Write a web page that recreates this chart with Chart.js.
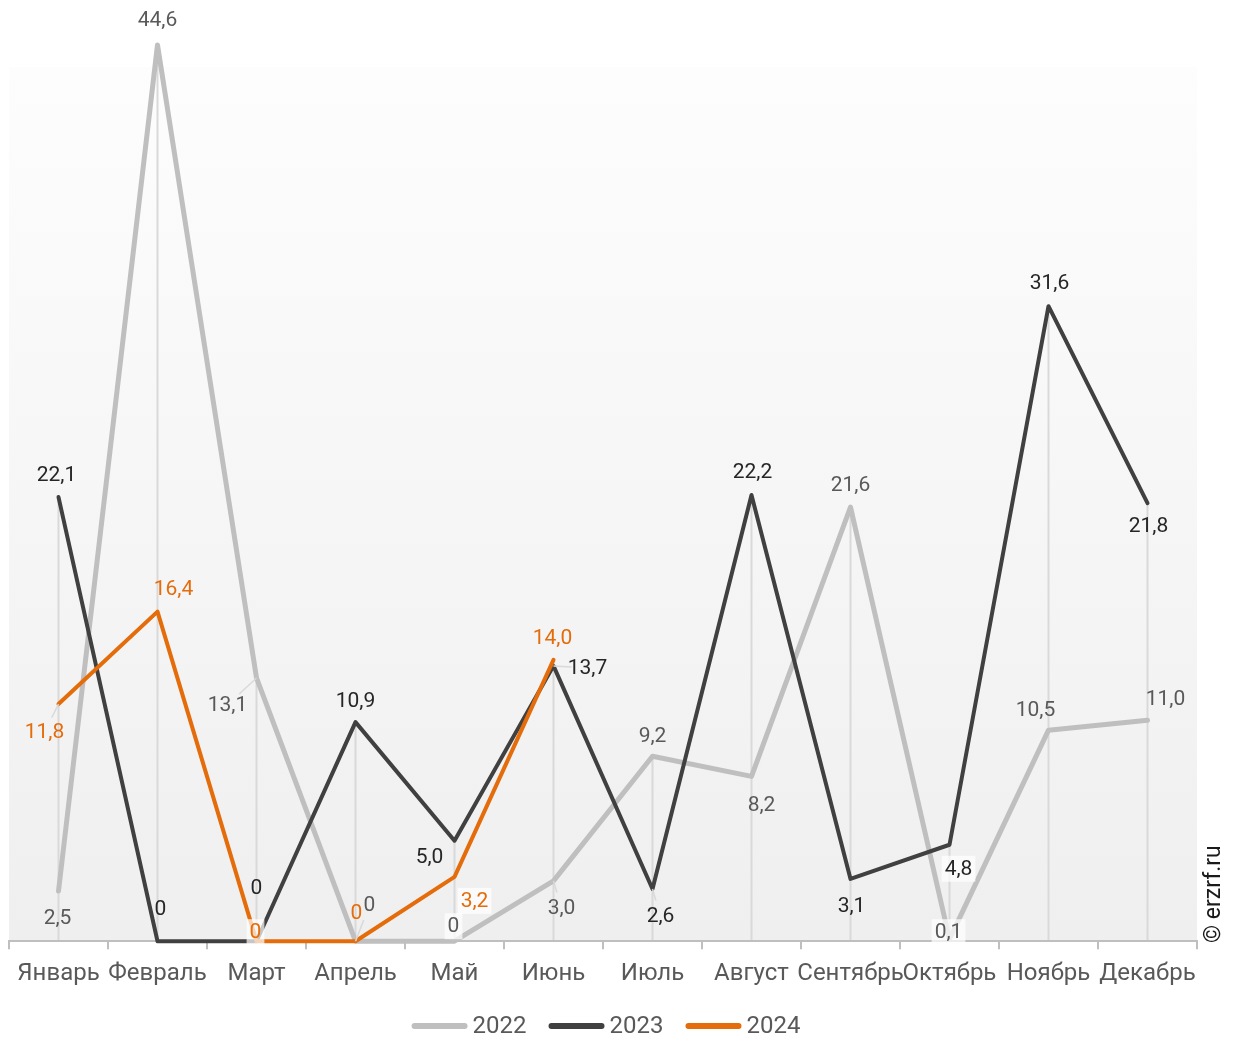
<!DOCTYPE html>
<html>
<head>
<meta charset="utf-8">
<script src="https://cdn.jsdelivr.net/npm/chart.js@4/dist/chart.umd.min.js"></script>
<style>
  html, body { margin: 0; padding: 0; background: #fff; }
  #wrap { width: 1234px; height: 1039px; }
</style>
</head>
<body>
<div id="wrap"><canvas id="graph" width="1234" height="1039"></canvas></div>
<script>
const months = ["Январь", "Февраль", "Март", "Апрель", "Май", "Июнь", "Июль", "Август", "Сентябрь", "Октябрь", "Ноябрь", "Декабрь"];
const years = ["2022", "2023", "2024"];

const values2022 = [2.5, 44.6, 13.1, 0, 0, 3.0, 9.2, 8.2, 21.6, 0.1, 10.5, 11.0];
const values2023 = [22.1, 0, 0, 10.9, 5.0, 13.7, 2.6, 22.2, 3.1, 4.8, 31.6, 21.8];
const values2024 = [11.8, 16.4, 0, 0, 3.2, 14.0, null, null, null, null, null, null];

// label placement (offset from point) and small extras, per series
const labelOffsets = [
    [[-1,27],[0,-25],[-29,27],[14,-36],[-1,-15],[8,27],[0,-21],[10,28],[0,-22],[-1,-7],[-13,-20],[18,-21]],
    [[-2,-22],[3,-32],[0,-53],[0,-21],[-25,16],[34,2],[8,27],[1,-23],[1,27],[9,24],[1,-23],[1,23]],
    [[-14,28],[16,-23],[-1,-9],[1,-28],[20,24],[-1,-22]]
];
const labelLeaders = [
    [false,false,true,true,false,true,false,false,false,false,false,false],
    [false,false,false,false,false,true,true,false,false,false,false,false],
    [true,false,false,false,false,false]
];
const labelBoxed = [
    [false,false,false,false,true,false,false,false,false,true,false,false],
    [false,false,false,false,false,false,false,false,false,true,false,false],
    [false,false,true,false,true,false]
];

const lineColors = ["#bfbfbf", "#404040", "#e46c0a"];
const labelColors = ["#595959", "#262626", "#e46c0a"];
const lineWidths = [5, 4, 4];
const FONT = "Roboto, 'Noto Sans', sans-serif";

const fmt = v => v === 0 ? "0" : v.toFixed(1).replace(".", ",");

const backgroundPlugin = {
    id: "plotBackground",
    beforeDraw(chart) {
        const {ctx, chartArea: a} = chart;
        const g = ctx.createLinearGradient(0, a.top, 0, a.bottom);
        g.addColorStop(0, "#fdfdfd");
        g.addColorStop(1, "#efefef");
        ctx.save();
        ctx.fillStyle = g;
        ctx.fillRect(a.left, a.top, a.right - a.left, a.bottom - a.top);
        // drop lines from the highest point in each category
        const y = chart.scales.y;
        ctx.strokeStyle = "#d9d9d9";
        ctx.lineWidth = 2;
        months.forEach((m, i) => {
            let top = null;
            chart.data.datasets.forEach(ds => {
                const v = ds.data[i];
                if (v != null && (top == null || v > top)) top = v;
            });
            if (top == null) return;
            const x = chart.scales.x.getPixelForValue(i);
            ctx.beginPath();
            ctx.moveTo(x, y.getPixelForValue(top));
            ctx.lineTo(x, a.bottom);
            ctx.stroke();
        });
        ctx.restore();
    }
};

const labelsPlugin = {
    id: "pointLabels",
    afterDatasetsDraw(chart) {
        const ctx = chart.ctx;
        ctx.save();
        ctx.font = "21px " + FONT;
        ctx.textAlign = "center";
        ctx.textBaseline = "middle";
        chart.data.datasets.forEach((ds, s) => {
            const meta = chart.getDatasetMeta(s);
            ds.data.forEach((v, i) => {
                if (v == null) return;
                const p = meta.data[i];
                const off = labelOffsets[s][i];
                const lx = p.x + off[0], ly = p.y + off[1];
                const text = fmt(v);
                const w = ctx.measureText(text).width;
                if (labelLeaders[s][i]) {
                    const dx = lx - p.x, dy = ly - p.y;
                    const len = Math.hypot(dx, dy);
                    const k = Math.max(0, (len - 16) / len);
                    ctx.strokeStyle = "#d9d9d9";
                    ctx.lineWidth = 1.5;
                    ctx.beginPath();
                    ctx.moveTo(p.x, p.y);
                    ctx.lineTo(p.x + dx * k, p.y + dy * k);
                    ctx.stroke();
                }
                if (labelBoxed[s][i]) {
                    ctx.fillStyle = "rgba(255,255,255,0.7)";
                    ctx.fillRect(lx - w / 2 - 3, ly - 13, w + 6, 26);
                }
                ctx.fillStyle = labelColors[s];
                ctx.fillText(text, lx, ly + 1);
            });
        });
        ctx.restore();
    }
};

const legendPlugin = {
    id: "bottomLegend",
    afterDraw(chart) {
        const ctx = chart.ctx;
        ctx.save();
        ctx.font = "24px " + FONT;
        ctx.textBaseline = "middle";
        ctx.lineCap = "round";
        const lineLen = 56, gap = 5, between = 22, yc = 1026;
        const widths = years.map(t => lineLen + gap + ctx.measureText(t).width);
        const total = widths.reduce((a, b) => a + b, 0) + between * (years.length - 1);
        let x = 606 - total / 2;
        years.forEach((t, s) => {
            ctx.strokeStyle = lineColors[s];
            ctx.lineWidth = 6;
            ctx.beginPath();
            ctx.moveTo(x + 3, yc);
            ctx.lineTo(x + lineLen - 3, yc);
            ctx.stroke();
            ctx.fillStyle = "#595959";
            ctx.textAlign = "left";
            ctx.fillText(t, x + lineLen + gap, yc + 1);
            x += widths[s] + between;
        });
        // source mark
        ctx.font = "23px " + FONT;
        ctx.translate(1214, 943);
        ctx.rotate(-Math.PI / 2);
        ctx.fillStyle = "#1a1a1a";
        ctx.fillText("© erzrf.ru", 0, 0);
        ctx.restore();
    }
};

const seriesData = [values2022, values2023, values2024];

var chart = new Chart("graph", {
    type: "line",
    data: {
        labels: months,
        datasets: seriesData.map((d, s) => ({
            label: years[s],
            data: d,
            borderColor: lineColors[s],
            borderWidth: lineWidths[s],
            borderCapStyle: "round",
            borderJoinStyle: "round",
            pointRadius: 0,
            tension: 0,
            clip: false,
            order: 3 - s
        }))
    },
    options: {
        responsive: false,
        animation: false,
        layout: {padding: {left: 9, right: 37, top: 67, bottom: 41}},
        plugins: {
            legend: {display: false},
            tooltip: {enabled: false}
        },
        scales: {
            x: {
                offset: true,
                grid: {
                    offset: true,
                    drawOnChartArea: false,
                    drawTicks: true,
                    tickLength: 8,
                    color: "#bfbfbf",
                    lineWidth: 2
                },
                border: {display: true, color: "#bfbfbf", width: 2},
                ticks: {
                    color: "#595959",
                    font: {family: FONT, size: 24},
                    padding: 10,
                    maxRotation: 0,
                    autoSkip: false
                }
            },
            y: {
                display: false,
                min: 0,
                max: 43.5
            }
        }
    },
    plugins: [backgroundPlugin, labelsPlugin, legendPlugin]
});
</script>
</body>
</html>
